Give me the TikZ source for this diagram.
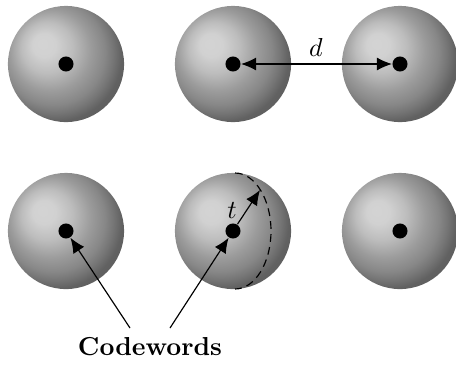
\documentclass[tikz,border=0pt]{standalone}
\usetikzlibrary{arrows.meta}
\definecolor{sA}{gray}{0.83}
\definecolor{sB}{gray}{0.82}
\definecolor{sC}{gray}{0.74}
\definecolor{sD}{gray}{0.61}
\definecolor{sE}{gray}{0.53}
\definecolor{sF}{gray}{0.46}
\definecolor{sG}{gray}{0.38}
\definecolor{sH}{gray}{0.35}
\pgfdeclareradialshading{sphere}{\pgfpoint{-10.5bp}{9bp}}{color(0bp)=(sA); color(5bp)=(sB); color(11bp)=(sC); color(17.5bp)=(sD); color(22.5bp)=(sE); color(25.5bp)=(sF); color(28.5bp)=(sG); color(39bp)=(sH); color(50bp)=(sH)}
\tikzset{
  ball/.style={circle, inner sep=0pt, minimum size=44.7pt, shading=sphere, draw=none},
  dot/.style={circle, fill=black, inner sep=0pt, minimum size=5.8pt},
  tip/.tip={Latex[length=5.8pt,width=5pt]},
  arr/.style={-tip, line width=0.45pt},
  darr/.style={tip-tip, line width=0.45pt},
  arcline/.style={dashed, dash pattern=on 3pt off 2pt, line width=0.45pt}
}
\begin{document}
\begin{tikzpicture}[x=0.385pt,y=-0.385pt]
\useasboundingbox (0,0) rectangle (456,365);
\node[ball] (s1) at (66,64) {};
\node[ball] (s2) at (233,64) {};
\node[ball] (s3) at (400,64) {};
\node[ball] (s4) at (66,231) {};
\node[ball] (s5) at (233,231) {};
\node[ball] (s6) at (400,231) {};
\node[dot] (c1) at (66,64) {};
\node[dot] (c2) at (233,64) {};
\node[dot] (c3) at (400,64) {};
\node[dot] (c4) at (66,231) {};
\node[dot] (c5) at (233,231) {};
\node[dot] (c6) at (400,231) {};
\draw[darr] (c2) -- (c3);
\node (dl) at (316,47) {$d$};
\draw[arcline] (235,173) arc[start angle=-90, end angle=90, x radius=36, y radius=58];
\coordinate (tt) at (260,190);
\draw[arr] (c5) -- (tt);
\node (tl) at (232,211) {$t$};
\node[font=\bfseries] (cw) at (150,347) {Codewords};
\coordinate (a1) at (130,328);
\coordinate (a2) at (170,328);
\draw[arr] (a1) -- (c4);
\draw[arr] (a2) -- (c5);
\end{tikzpicture}
\end{document}
